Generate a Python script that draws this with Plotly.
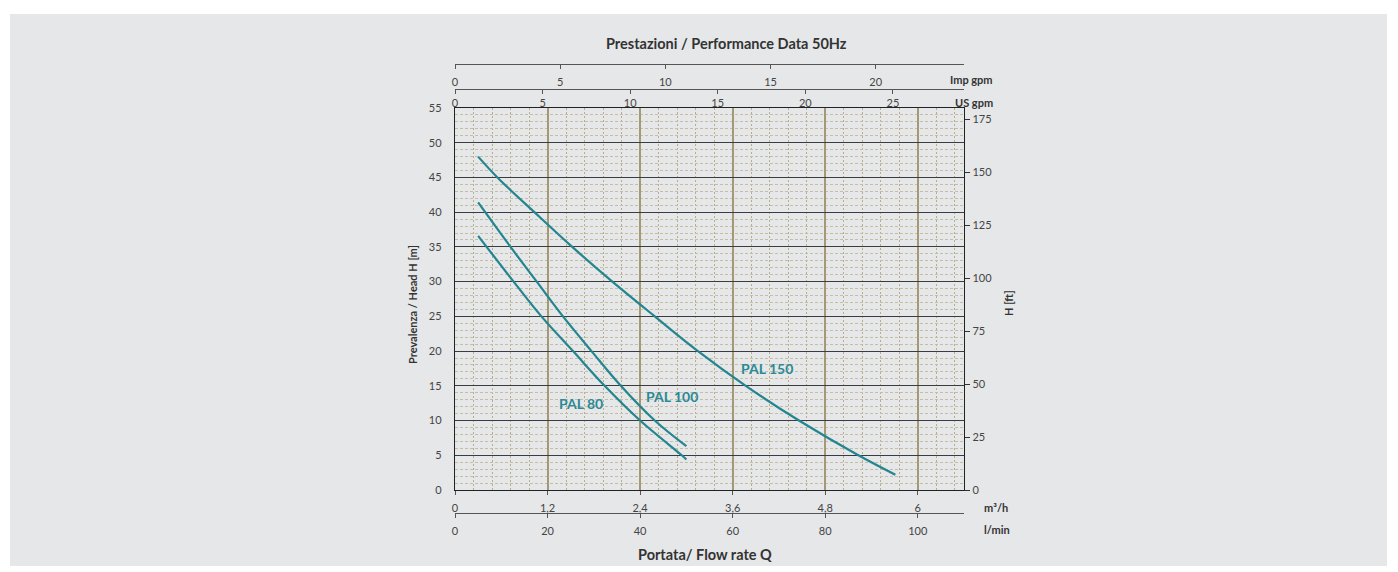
import plotly.graph_objects as go

# ---------------- data ----------------
q_pal80 = [0.3, 0.76, 1.12, 1.53, 1.94, 2.40, 2.94, 3.0]
h_pal80 = [36.6, 30, 25, 20, 15, 10, 5, 4.4]

q_pal100 = [0.3, 0.72, 1.06, 1.40, 1.77, 2.15, 2.59, 3.0]
h_pal100 = [41.4, 35, 30, 25, 20, 15, 10, 6.3]

q_pal150 = [0.3, 0.55, 1.03, 1.52, 2.04, 2.59, 3.15, 3.77, 4.46, 5.23, 5.71]
h_pal150 = [48.0, 45, 40, 35, 30, 25, 20, 15, 10, 5, 2.2]

series_names = ["PAL 80", "PAL 100", "PAL 150"]
label_q = [1.63, 2.81, 4.05]
label_h = [12.4, 13.5, 17.5]

q_max = 6.6      # m3/h
h_max = 55       # m
m3h_ticks = [0, 1.2, 2.4, 3.6, 4.8, 6.0]
m3h_labels = ["0", "1,2", "2,4", "3,6", "4,8", "6"]

# unit conversions
LMIN_PER_M3H = 1000 / 60
USGPM_PER_M3H = 1 / 0.2271247
IMPGPM_PER_M3H = 1 / 0.2727654
FT_PER_M = 1 / 0.3048

TEAL = "#23858f"
FONT = "Lato"

# page offset of the figure inside the browser window
OFF = 8
W, H = 1398, 572
ML = 455 - OFF
MR = W - (964 - OFF)
MT, MB = 30, 20
PW = W - ML - MR
PH = H - MT - MB


def px(x):
    return (x - OFF - ML) / PW


def py(y):
    return (H - MB - (y - OFF)) / PH


PLOT_TOP, PLOT_BOT = 108, 490

fig = go.Figure()
for q, h, name in zip([q_pal80, q_pal100, q_pal150], [h_pal80, h_pal100, h_pal150], series_names):
    fig.add_trace(go.Scatter(x=q, y=h, mode="lines", name=name,
                             line=dict(color=TEAL, width=2.2, shape="spline", smoothing=1.0),
                             xaxis="x", yaxis="y", hoverinfo="skip"))

# invisible copies on the secondary axes so they are always drawn
fig.add_trace(go.Scatter(x=[v * LMIN_PER_M3H for v in q_pal150], y=h_pal150, mode="lines",
                         opacity=0, xaxis="x2", yaxis="y", hoverinfo="skip", showlegend=False))
fig.add_trace(go.Scatter(x=[v * USGPM_PER_M3H for v in q_pal150], y=h_pal150, mode="lines",
                         opacity=0, xaxis="x3", yaxis="y", hoverinfo="skip", showlegend=False))
fig.add_trace(go.Scatter(x=[v * IMPGPM_PER_M3H for v in q_pal150], y=h_pal150, mode="lines",
                         opacity=0, xaxis="x4", yaxis="y", hoverinfo="skip", showlegend=False))
fig.add_trace(go.Scatter(x=q_pal150, y=[v * FT_PER_M for v in h_pal150], mode="lines",
                         opacity=0, xaxis="x", yaxis="y2", hoverinfo="skip", showlegend=False))

tickfont = dict(family=FONT, size=11, color="#444444")
ydom = [py(PLOT_BOT), py(PLOT_TOP)]

axis_common = dict(showgrid=False, zeroline=False, showline=True, linecolor="#555555",
                   linewidth=1.2, ticks="outside", ticklen=4, tickcolor="#555555",
                   tickfont=tickfont, fixedrange=True)

fig.update_layout(
    width=W, height=H,
    margin=dict(l=ML, r=MR, t=MT, b=MB),
    paper_bgcolor="white",
    plot_bgcolor="#e6e7e9",
    showlegend=False,
    separators=", ",
    xaxis=dict(range=[0, q_max], domain=[0, 1], anchor="y",
               tickvals=m3h_ticks, ticktext=m3h_labels,
               showgrid=True, gridcolor="#a59876", gridwidth=1.5,
               minor=dict(dtick=0.24, tick0=0, showgrid=True, gridcolor="#b8ad8c",
                          griddash="2px,2px", gridwidth=1),
               zeroline=False, showline=True, linecolor="#222222", linewidth=1.4, mirror=True,
               ticks="outside", ticklen=4, tickcolor="#555555", tickfont=tickfont,
               ticklabelstandoff=4, fixedrange=True),
    xaxis2=dict(range=[0, q_max * LMIN_PER_M3H], overlaying="x", anchor="free",
                position=py(513), side="bottom", dtick=20, tick0=0,
                ticklabelstandoff=4, **axis_common),
    xaxis3=dict(range=[0, q_max * USGPM_PER_M3H], overlaying="x", anchor="free",
                position=py(89), side="bottom", dtick=5, tick0=0, **axis_common),
    xaxis4=dict(range=[0, q_max * IMPGPM_PER_M3H], overlaying="x", anchor="free",
                position=py(64), side="bottom", dtick=5, tick0=0,
                ticklabelstandoff=4, **axis_common),
    yaxis=dict(range=[0, h_max], domain=ydom, anchor="x", dtick=5, tick0=0,
               showgrid=True, gridcolor="#3c3c3c", gridwidth=1.3,
               minor=dict(dtick=1, tick0=0, showgrid=True, gridcolor="#c6bda3",
                          griddash="3px,2px", gridwidth=1),
               zeroline=False, showline=True, linecolor="#222222", linewidth=1.4, mirror=True,
               ticks="outside", ticklen=10, tickcolor="rgba(0,0,0,0)", tickfont=tickfont,
               fixedrange=True),
    yaxis2=dict(range=[0, h_max * FT_PER_M], overlaying="y", anchor="x", side="right",
                dtick=25, tick0=0, showgrid=False, zeroline=False, showline=True,
                linecolor="#222222", linewidth=1.4, ticks="outside", ticklen=5,
                tickcolor="#333333", tickfont=tickfont, fixedrange=True),
)

# background panel
fig.add_shape(type="rect", xref="paper", yref="paper",
              x0=px(10), x1=px(1387), y0=py(566), y1=py(14),
              fillcolor="#e6e7e9", line=dict(width=0), layer="below")

ann = []
ann.append(dict(text="<b>Prestazioni / Performance Data 50Hz</b>", x=px(726), y=py(44),
                font=dict(family=FONT, size=14.5, color="#333333")))
ann.append(dict(text="<b>Portata/ Flow rate Q</b>", x=px(705), y=py(554),
                font=dict(family=FONT, size=14.5, color="#333333")))
ann.append(dict(text="<b>Prevalenza / Head H [m]</b>", x=px(412), y=py(305), textangle=-90,
                font=dict(family=FONT, size=11, color="#333333")))
ann.append(dict(text="<b>H [ft]</b>", x=px(1008), y=py(303), textangle=-90,
                font=dict(family=FONT, size=11, color="#333333")))
ann.append(dict(text="<b>Imp gpm</b>", x=px(995), y=py(79), xanchor="right",
                font=dict(family=FONT, size=11, color="#333333")))
ann.append(dict(text="<b>US gpm</b>", x=px(995), y=py(102), xanchor="right",
                font=dict(family=FONT, size=11, color="#333333")))
ann.append(dict(text="<b>m³/h</b>", x=px(982), y=py(507), xanchor="left",
                font=dict(family=FONT, size=11, color="#333333")))
ann.append(dict(text="<b>l/min</b>", x=px(982), y=py(529), xanchor="left",
                font=dict(family=FONT, size=11, color="#333333")))
for a in ann:
    a.update(xref="paper", yref="paper", showarrow=False)
    if "xanchor" not in a:
        a["xanchor"] = "center"
    a["yanchor"] = "middle"
    fig.add_annotation(**a)

for name, lq, lh in zip(series_names, label_q, label_h):
    fig.add_annotation(text=f"<b>{name}</b>", x=lq, y=lh, xref="x", yref="y",
                       showarrow=False, font=dict(family=FONT, size=14, color="#2b8a94"))

fig.write_html("out.html")
